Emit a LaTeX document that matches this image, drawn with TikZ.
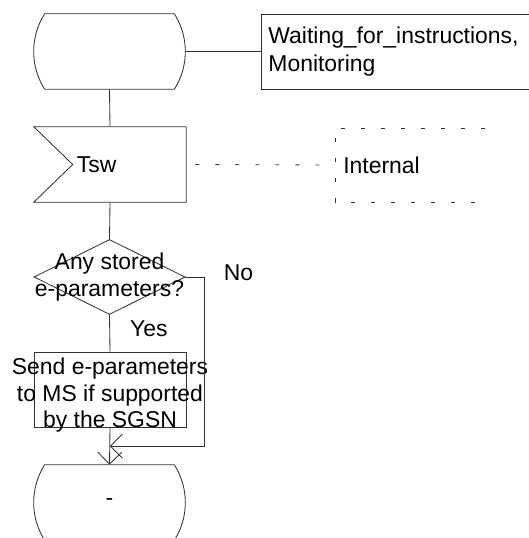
\documentclass[tikz,border=0pt]{standalone}
\usepackage{fontspec}
\setmainfont{Liberation Sans}
\usepackage{tikz}
\usetikzlibrary{arrows.meta,calc,shapes.geometric}
\colorlet{sdlline}{black!80}
\newcommand{\sdlstate}[1]{%
  \draw[sdl] ($(#1.north west)+(11,0)$) -- ($(#1.north east)+(-11,0)$)
    .. controls ($(#1.north east)+(3.7,23)$) and ($(#1.south east)+(3.7,-23)$) .. ($(#1.south east)+(-11,0)$)
    -- ($(#1.south west)+(11,0)$)
    .. controls ($(#1.south west)+(-3.7,-23)$) and ($(#1.north west)+(-3.7,23)$) .. cycle;}

\begin{document}
\begin{tikzpicture}[x=0.025cm,y=-0.025cm,>={Straight Barb[length=0.3cm,width=0.6cm]},
  every node/.style={font=\fontsize{16.3}{18.8}\selectfont},
  sdl/.style={draw=sdlline,line width=0.6pt},
  intdash/.style={draw=sdlline,line width=0.6pt,dash pattern=on 0.1cm off 0.4cm},
  statenode/.style={minimum width=3.775cm,minimum height=1.875cm,inner sep=0},
  decision/.style={sdl,diamond,minimum width=3.775cm,minimum height=1.875cm,inner sep=0}]
\useasboundingbox (0,0) rectangle (528,538);
% state and its name box
\node[statenode] (idle) at (109.5,51.5) {};
\sdlstate{idle}
\node[sdl,anchor=west,minimum width=7cm,minimum height=1.875cm,inner xsep=0.175cm,text width=6.65cm,align=left,
  font=\fontsize{16.3}{19.9}\selectfont] (waitbox) at (261,51.5) {Waiting\_for\_instructions,\\Monitoring};
\draw[sdl] (idle.east) -- (waitbox.west);
% input signal
\node[minimum width=3.8cm,minimum height=1.875cm,inner xsep=1.075cm,inner ysep=0,text width=1.65cm,align=left] (tsw) at (110,164.5) {Tsw};
\draw[sdl] (tsw.north west) -- (tsw.north east) -- (tsw.south east) -- (tsw.south west) -- ($(tsw.west)+(39,0)$) -- cycle;
\draw[sdl] (idle.south) -- (tsw.north);
\node[anchor=west,inner xsep=0.2cm] (internal) at (335,165) {Internal};
\draw[intdash] ($(internal.west)+(150,-37)$) -- ($(internal.west)+(0,-37)$) -- ($(internal.west)+(0,37)$) -- ($(internal.west)+(142,37)$);
\draw[intdash,shorten <=0.225cm] (tsw.east) -- (internal.west);
% decision
\node[decision,label={[align=center]center:{Any stored\\e-parameters?}}] (anystored) at (109.5,277) {};
\draw[sdl] (tsw.south) -- (anystored.north);
\node[sdl,minimum width=3.8cm,minimum height=1.875cm,inner sep=0,
  label={[align=center,yshift=-0.15cm]center:{Send e-parameters\\to MS if supported\\by the SGSN}}] (sendpar) at (110,389.5) {};
\draw[sdl] (anystored.south) -- node[pos=0.37,anchor=west,inner sep=0,xshift=0.5cm]{Yes} (sendpar.north);
% next state
\node[statenode] (endstate) at (109.5,502.5) {-};
\sdlstate{endstate}
\coordinate (merge) at ($(sendpar.south)!0.5!(endstate.north)$);
\draw[sdl,->] (anystored.east) -- ++(19,0) node[anchor=base west,inner sep=0,xshift=0.475cm,yshift=-0.075cm]{No} |- (merge);
\draw[sdl,->] (sendpar.south) -- (endstate.north);
\end{tikzpicture}
\end{document}
